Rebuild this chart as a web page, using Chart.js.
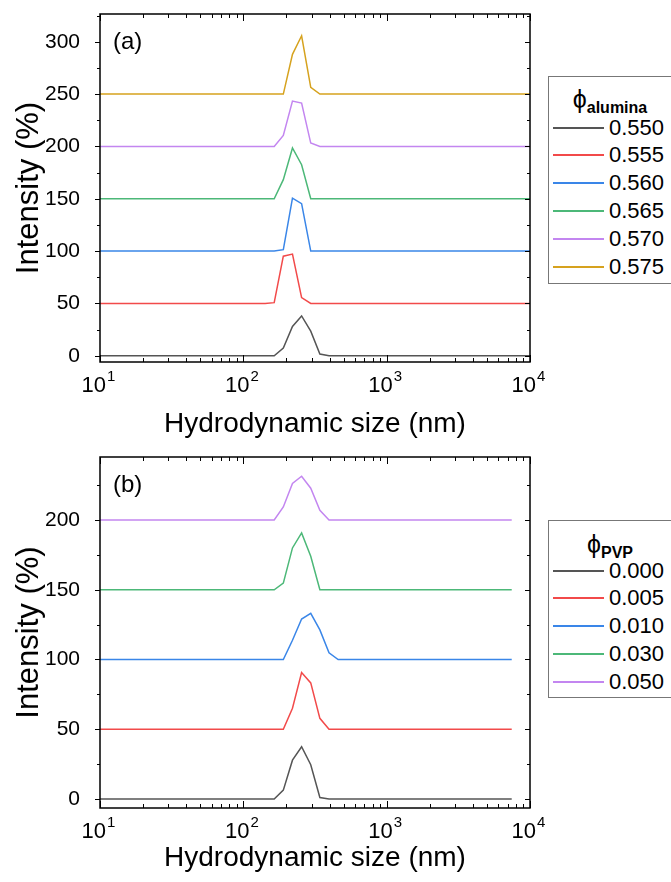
<!DOCTYPE html>
<html>
<head>
<meta charset="utf-8">
<script src="https://cdn.jsdelivr.net/npm/chart.js@4.4.1/dist/chart.umd.min.js"></script>
<style>
  body { margin: 0; background: #fff; font-family: "Liberation Sans", Arial, sans-serif; }
  #wrap { position: relative; width: 671px; height: 882px; overflow: hidden; }
  .panel { position: absolute; left: 0; width: 671px; height: 441px; }
  .legend { position: absolute; left: 548px; width: 140px; border: 1.5px solid #777; background: #fff; box-sizing: border-box; }
  .legend .ttl { position: absolute; left: 0; width: 122px; text-align: center; font-size: 25px; line-height: 28px; color: #000; }
  .legend .ttl sub { font-size: 16px; font-weight: bold; vertical-align: -5px; }
  .legend .row { position: absolute; left: 0; width: 140px; height: 28px; }
  .legend .row .ln { position: absolute; left: 4px; top: 13px; width: 51px; height: 2px; }
  .legend .row .tx { position: absolute; left: 60px; top: 0; font-size: 22px; line-height: 28px; color: #000; }
</style>
</head>
<body>
<div id="wrap">
  <div class="panel" style="top:0"><canvas id="chartA" width="671" height="441"></canvas></div>
  <div class="panel" style="top:441px"><canvas id="chartB" width="671" height="441"></canvas></div>
  <div class="legend" id="legA" style="top:76px;height:208px"></div>
  <div class="legend" id="legB" style="top:520px;height:178px"></div>
</div>
<script>
// hydrodynamic size bins (nm) where the curves change
const sizesA = [10, 141.8, 164.2, 190.1, 220.2, 255.0, 295.3, 342.0, 396.1, 458.7, 10000];
const sizesB = [10, 141.8, 164.2, 190.1, 220.2, 255.0, 295.3, 342.0, 396.1, 458.7, 7456];

// (a) alumina fraction series, intensity (%) before vertical offset
const labelsA = ['0.550', '0.555', '0.560', '0.565', '0.570', '0.575'];
const offsetsA = [0, 50, 100, 150, 200, 250];
const alumina550 = [0, 0, 0, 7.4, 28, 38, 23.5, 1.6, 0, 0, 0];
const alumina555 = [0, 0, 0.7, 45.1, 47.1, 5.5, 0, 0, 0, 0, 0];
const alumina560 = [0, 0, 0, 1.3, 50.6, 45.3, 0, 0, 0, 0, 0];
const alumina565 = [0, 0, 0, 18.2, 48.5, 32.5, 0, 0, 0, 0, 0];
const alumina570 = [0, 0, 0, 10.5, 43.3, 41.4, 3.2, 0, 0, 0, 0];
const alumina575 = [0, 0, 0, 0, 38, 55.7, 6.4, 0, 0, 0, 0];

// (b) PVP fraction series
const labelsB = ['0.000', '0.005', '0.010', '0.030', '0.050'];
const offsetsB = [0, 50, 100, 150, 200];
const pvp000 = [0, 0, 0, 6.3, 27.8, 37.4, 24.5, 1.0, 0, 0, 0];
const pvp005 = [0, 0, 0, 0, 15, 40.6, 33.2, 7.8, 0, 0, 0];
const pvp010 = [0, 0, 0, 0, 13.8, 29, 33.1, 21.2, 4.8, 0, 0];
const pvp030 = [0, 0, 0, 4.8, 30, 40.8, 24, 0, 0, 0, 0];
const pvp050 = [0, 0, 0, 9.4, 26.2, 31.4, 22.8, 7, 0, 0, 0];

const xTickValues = [10, 100, 1000, 10000];
const xTickExps = ['1', '2', '3', '4'];
const yTicksA = [0, 50, 100, 150, 200, 250, 300];
const yTicksB = [0, 50, 100, 150, 200];

const colors = ['#555555', '#f24a4a', '#3a86e8', '#4cb878', '#c386f0', '#d6a21e'];
const FONT = '"Liberation Sans", Arial, sans-serif';

// frame, inward/outward ticks, superscript x labels, panel tag
const framePlugin = {
    id: 'frame',
    afterDraw(chart) {
        const { ctx, chartArea: a, scales: { x, y } } = chart;
        const tag = chart.options.plugins.frame.tag;
        ctx.save();
        ctx.strokeStyle = '#000';
        ctx.lineWidth = 1;
        ctx.beginPath();
        for (let e = 1; e < 4; e++) {
            for (let m = 1; m <= 10; m++) {
                const px = Math.round(x.getPixelForValue(m * Math.pow(10, e))) + 0.5;
                const len = (m === 1 || m === 10) ? 7 : 4;
                ctx.moveTo(px, a.bottom); ctx.lineTo(px, a.bottom - len);
                ctx.moveTo(px, a.top); ctx.lineTo(px, a.top + len);
            }
        }
        for (let v = 0; v <= y.max; v += 25) {
            const py = Math.round(y.getPixelForValue(v)) + 0.5;
            const len = v % 50 === 0 ? 5 : 3;
            ctx.moveTo(a.left - len, py); ctx.lineTo(a.left, py);
            ctx.moveTo(a.right, py); ctx.lineTo(a.right - len, py);
        }
        ctx.stroke();
        ctx.lineWidth = 1.5;
        ctx.strokeRect(a.left, a.top, a.right - a.left, a.bottom - a.top);

        ctx.fillStyle = '#000';
        ctx.textBaseline = 'middle';
        xTickValues.forEach((v, i) => {
            const px = x.getPixelForValue(v);
            ctx.font = '22px ' + FONT;
            const w1 = ctx.measureText('10').width;
            ctx.font = '15px ' + FONT;
            const w2 = ctx.measureText(xTickExps[i]).width;
            const left = px - (w1 + w2) / 2 - 2;
            ctx.textAlign = 'left';
            ctx.font = '22px ' + FONT;
            ctx.fillText('10', left, a.bottom + 24);
            ctx.font = '15px ' + FONT;
            ctx.fillText(xTickExps[i], left + w1 + 1, a.bottom + 15);
        });
        ctx.font = '24px ' + FONT;
        ctx.textAlign = 'left';
        ctx.fillText(tag, a.left + 13, a.top + 28);
        ctx.restore();
    }
};

function makeDatasets(sizes, series, offsets) {
    return series.map((vals, i) => ({
        data: sizes.map((s, j) => ({ x: s, y: vals[j] + offsets[i] })),
        borderColor: colors[i],
        borderWidth: 1.5,
        pointRadius: 0,
        tension: 0,
        fill: false
    }));
}

function makeChart(id, datasets, opt) {
    return new Chart(document.getElementById(id), {
        type: 'line',
        data: { datasets: datasets },
        plugins: [framePlugin],
        options: {
            responsive: false,
            animation: false,
            layout: { padding: { top: opt.padTop, right: 141, left: 0, bottom: 0 } },
            plugins: { legend: { display: false }, tooltip: { enabled: false }, frame: { tag: opt.tag } },
            scales: {
                x: {
                    type: 'logarithmic', min: 10, max: 10000,
                    grid: { display: false }, border: { display: false },
                    ticks: { display: false },
                    title: { display: true, text: 'Hydrodynamic size (nm)', color: '#000',
                             font: { size: 28, family: FONT }, padding: { top: 0, bottom: opt.titlePad } },
                    afterFit(s) { s.height = opt.xHeight; s.paddingLeft = 0; s.paddingRight = 0; }
                },
                y: {
                    min: opt.yMin, max: opt.yMax,
                    grid: { display: false }, border: { display: false },
                    afterBuildTicks(s) { s.ticks = opt.yTicks.map(v => ({ value: v })); },
                    ticks: { color: '#000', padding: 12, font: { size: 21, family: FONT } },
                    title: { display: true, text: 'Intensity (%)', color: '#000',
                             font: { size: 31, family: FONT }, padding: { top: 11, bottom: 0 } },
                    afterFit(s) { s.width = 100; s.paddingTop = 0; s.paddingBottom = 0; }
                }
            }
        }
    });
}

makeChart('chartA',
    makeDatasets(sizesA, [alumina550, alumina555, alumina560, alumina565, alumina570, alumina575], offsetsA),
    { padTop: 14, xHeight: 79, titlePad: 0, yMin: -6, yMax: 326.5, yTicks: yTicksA, tag: '(a)' });

makeChart('chartB',
    makeDatasets(sizesB, [pvp000, pvp005, pvp010, pvp030, pvp050], offsetsB),
    { padTop: 16, xHeight: 74, titlePad: 7, yMin: -6.5, yMax: 245.2, yTicks: yTicksB, tag: '(b)' });

function buildLegend(id, sub, labels, titleTop, rowTop, step) {
    const el = document.getElementById(id);
    let html = '<div class="ttl" style="top:' + (titleTop - 14) + 'px">\u03D5<sub>' + sub + '</sub></div>';
    labels.forEach((lab, i) => {
        html += '<div class="row" style="top:' + Math.round(rowTop + step * i - 14) + 'px">' +
            '<div class="ln" style="background:' + colors[i] + '"></div>' +
            '<div class="tx">' + lab + '</div></div>';
    });
    el.innerHTML = html;
}
buildLegend('legA', 'alumina', labelsA, 22, 50.5, 27.9);
buildLegend('legB', 'PVP', labelsB, 23, 49.5, 27.8);
</script>
</body>
</html>
